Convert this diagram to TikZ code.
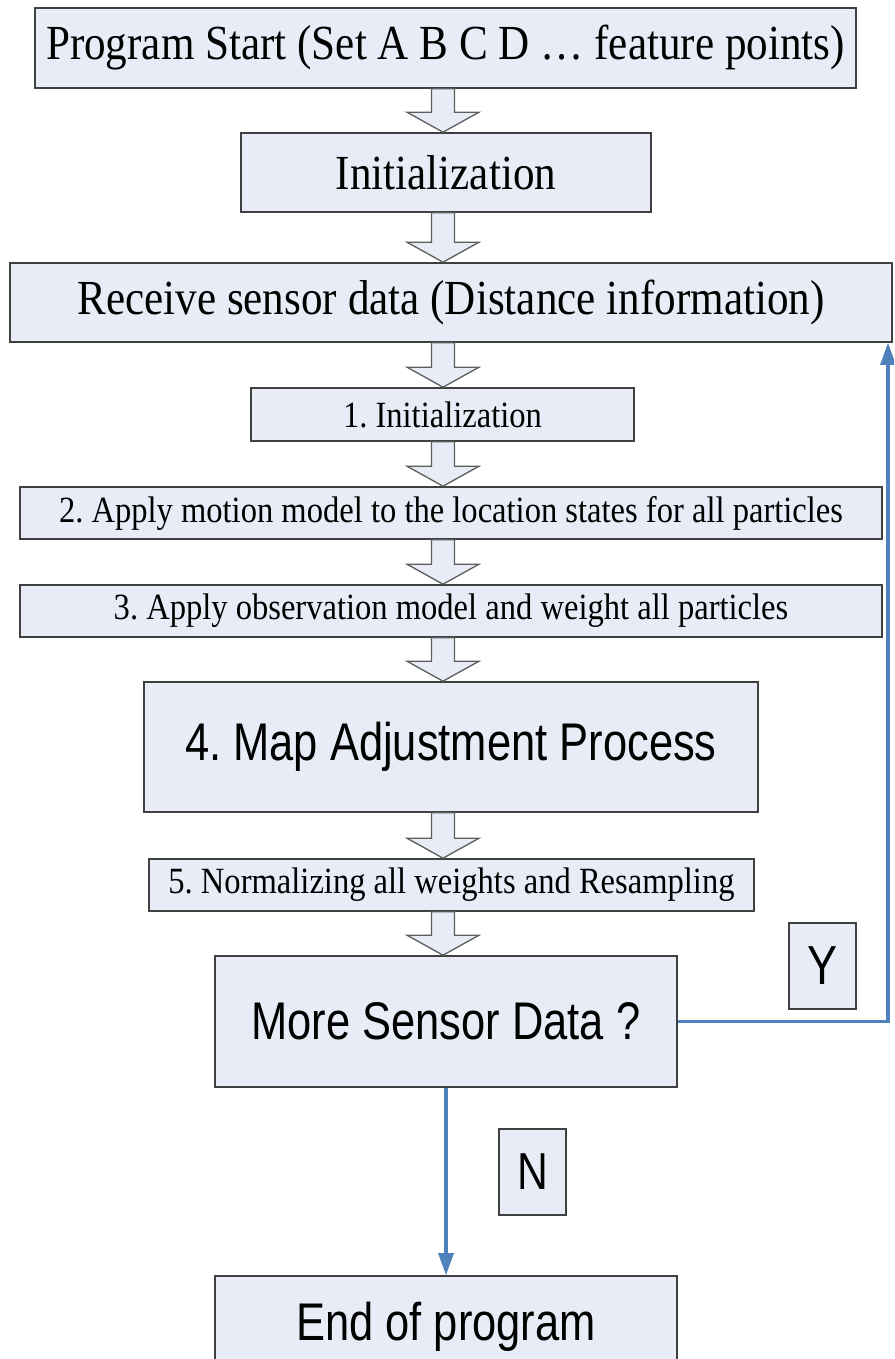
\documentclass[tikz,border=0pt]{standalone}
\usepackage{fontspec}
\usepackage{xcolor}
\usepackage{tikz}
\usetikzlibrary{arrows.meta, calc}

\newfontfamily\boxserif[FakeStretch=0.88]{Liberation Serif}
\newfontfamily\boxsans[FakeStretch=0.82]{Liberation Sans}
\definecolor{boxfill}{RGB}{231,236,246}
\definecolor{boxline}{RGB}{64,64,64}
\definecolor{loopblue}{RGB}{79,129,189}
\frenchspacing

\begin{document}
\begin{tikzpicture}[x=1pt, y=-1pt,
    stepbox/.style={draw=boxline, fill=boxfill, line width=1.6pt, inner sep=0pt},
    bigtext/.style={font=\boxserif\fontsize{49}{58}\selectfont},
    smalltext/.style={font=\boxserif\fontsize{37}{44}\selectfont},
    sanstext/.style={font=\boxsans\fontsize{53}{62}\selectfont},
    hollow/.style={draw=boxline!85, fill=boxfill, line width=1.3pt},
    flow/.style={draw=loopblue, line width=3.2pt, -{Triangle[length=22pt, width=15pt]}}]
    \useasboundingbox (0,0) rectangle (894,1359);
    \clip (0,0) rectangle (894,1359);

    % Main chain
    \node[stepbox, bigtext, minimum width=821pt, minimum height=80pt] (start) at (445.5, 48) {Program Start (Set A B C D … feature points)};
    \node[stepbox, bigtext, minimum width=410pt, minimum height=79pt] (init) at (446, 172.5) {Initialization};
    \node[stepbox, bigtext, minimum width=882pt, minimum height=79pt] (recv) at (451, 302.5) {Receive sensor data (Distance information)};
    \node[stepbox, smalltext, minimum width=383pt, minimum height=53pt] (S1) at (442.5, 414.5) {1. Initialization};
    \node[stepbox, smalltext, minimum width=862pt, minimum height=52pt] (S2) at (451, 513) {2. Apply motion model to the location states for all particles};
    \node[stepbox, smalltext, minimum width=862pt, minimum height=52pt] (S3) at (451, 611) {3. Apply observation model and weight all particles};
    \node[stepbox, sanstext, minimum width=614pt, minimum height=130pt] (S4) at (451, 747) {4. Map Adjustment Process};
    \node[stepbox, smalltext, minimum width=605pt, minimum height=52pt] (S5) at (451.5, 885) {5. Normalizing all weights and Resampling};
    \node[stepbox, sanstext, minimum width=462pt, minimum height=131pt] (more) at (446, 1021.5) {More Sensor Data ?};
    \node[stepbox, sanstext, minimum width=462pt, minimum height=102pt] (finish) at (446, 1327) {End of program};

    % Hollow arrows between the steps
    \coordinate (ax) at (443, 0);
    \foreach \a/\b in {start/init, init/recv, recv/S1, S1/S2, S2/S3, S3/S4, S4/S5, S5/more}
        \draw[hollow] ($(ax |- \a.south)+(-11.5,0)$) -- ($(ax |- \b.north)+(-11.5,-20)$) -- ++(-24.5,0)
            -- (ax |- \b.north) -- ++(36,-20) -- ++(-24.5,0) -- ($(ax |- \a.south)+(11.5,0)$) -- cycle;

    % Decision branches
    \coordinate (turn) at (888, 0);
    \draw[flow] (more.east) -| (turn |- recv.south);
    \draw[flow] (more.south) -- (finish.north);
    \node[stepbox, font=\boxsans\fontsize{55}{62}\selectfont, line width=1.2pt, minimum width=67pt, minimum height=86pt] (yes) at (822.5, 966) {Y};
    \node[stepbox, font=\boxsans\fontsize{52}{62}\selectfont, line width=1.2pt, minimum width=67pt, minimum height=86pt] (no) at (532.5, 1172) {N};

\end{tikzpicture}
\end{document}
